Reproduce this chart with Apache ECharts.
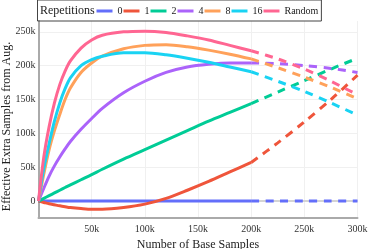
<!DOCTYPE html>
<html>
<head>
<meta charset="utf-8">
<script src="https://cdn.jsdelivr.net/npm/echarts@6/dist/echarts.min.js"></script>
<style>
html,body{margin:0;padding:0;background:#fff;}
#chart{width:373px;height:249px;}
</style>
</head>
<body>
<div id="chart"></div>
<script>
// x positions (number of base samples)
const solidX = [0, 5000, 10000, 15000, 20000, 25000, 30000, 40000, 50000, 60000, 80000, 100000, 120000, 140000, 160000, 180000, 200000];
const dashX = [200000, 225000, 250000, 275000, 300000];

const seriesNames = ['0', '1', '2', '4', '8', '16', 'Random'];
const seriesColors = ['#636EFA', '#EF553B', '#00CC96', '#AB63FA', '#FFA15A', '#19D3F3', '#FF6692'];

// solid part (0 .. 200k)
const rep0Solid = [0, 0, 0, 0, 0, 0, 0, 0, 0, 0, 0, 0, 0, 0, 0, 0, 0];
const rep1Solid = [0, -2000, -4000, -5500, -7000, -8300, -9500, -11000, -12000, -12000, -9500, -4500, 4000, 16000, 29000, 43000, 57000];
const rep2Solid = [0, 4000, 8000, 12000, 16000, 20000, 24000, 31500, 39000, 47000, 62000, 76000, 90000, 104000, 118000, 131000, 144000];
const rep4Solid = [0, 19000, 37000, 52000, 65000, 77000, 88000, 106000, 122000, 137000, 160000, 177000, 190000, 198000, 202000, 204000, 204000];
const rep8Solid = [0, 40000, 76000, 104000, 128000, 150000, 167000, 190000, 204000, 214000, 225000, 230000, 231000, 228000, 223000, 217000, 210000];
const rep16Solid = [0, 48000, 85000, 118000, 145000, 166000, 182000, 200000, 209000, 214000, 219000, 219000, 216000, 211000, 205000, 198000, 191000];
const randomSolid = [0, 65000, 110000, 145000, 172000, 192000, 207000, 226000, 238000, 245000, 250000, 251000, 249000, 244000, 238000, 230000, 222000];

// dashed part (200k .. 300k)
const rep0Dash = [0, 0, 0, 0, 0];
const rep1Dash = [57000, 86000, 117000, 150000, 186000];
const rep2Dash = [144000, 161000, 178000, 195000, 211000];
const rep4Dash = [204000, 203000, 200000, 196000, 190000];
const rep8Dash = [210000, 197000, 183000, 168000, 151000];
const rep16Dash = [191000, 177000, 162000, 145000, 127000];
const randomDash = [222000, 210000, 195000, 177000, 157000];

// tick labels
const xTickValues = [50000, 100000, 150000, 200000, 250000, 300000];
const yTickValues = [0, 50000, 100000, 150000, 200000, 250000];

const solidData = [rep0Solid, rep1Solid, rep2Solid, rep4Solid, rep8Solid, rep16Solid, randomSolid];
const dashData = [rep0Dash, rep1Dash, rep2Dash, rep4Dash, rep8Dash, rep16Dash, randomDash];

const FONT = 'Liberation Serif';
const fmtK = v => (v === 0 ? '0' : (v / 1000) + 'k');

const series = [];
// zero line
series.push({
  type: 'line', name: '__zero', data: [[0, 0]], z: 1, symbol: 'none', silent: true,
  lineStyle: { opacity: 0 },
  markLine: {
    z: 1, silent: true, symbol: 'none', label: { show: false },
    lineStyle: { color: '#d4d4d4', width: 2, type: 'solid' },
    emphasis: { disabled: true },
    data: [{ yAxis: 0 }]
  }
});
seriesNames.forEach((n, i) => {
  series.push({
    type: 'line', name: n, z: 3,
    data: solidX.map((x, j) => [x, solidData[i][j]]),
    smooth: 0.3, symbol: 'none', showSymbol: false,
    lineStyle: { color: seriesColors[i], width: 3 },
    itemStyle: { color: seriesColors[i] },
    emphasis: { disabled: true }
  });
});
seriesNames.forEach((n, i) => {
  series.push({
    type: 'line', name: n, z: 2,
    data: dashX.map((x, j) => [x, dashData[i][j]]),
    smooth: 0.3, symbol: 'none', showSymbol: false,
    lineStyle: { color: seriesColors[i], width: 3, type: [8, 6.5], cap: 'butt' },
    itemStyle: { color: seriesColors[i] },
    emphasis: { disabled: true }
  });
});

const chart = echarts.init(document.getElementById('chart'), null, { renderer: 'canvas' });
chart.setOption({
  animation: false,
  backgroundColor: '#ffffff',
  textStyle: { fontFamily: FONT },
  graphic: [{
    type: 'text', left: 40, top: 5,
    style: { text: 'Repetitions', font: '12px "' + FONT + '"', fill: '#222' }
  }, {
    type: 'text', x: 7, y: 126.5, rotation: Math.PI / 2,
    style: {
      text: 'Effective Extra Samples from Aug.', font: '12px "' + FONT + '"', fill: '#222',
      align: 'center', verticalAlign: 'middle'
    }
  }],
  legend: {
    left: 37.5, top: 0,
    padding: [5, 3, 4, 59],
    borderColor: '#444', borderWidth: 1,
    icon: 'rect', itemWidth: 16, itemHeight: 3, itemGap: 1,
    data: seriesNames,
    textStyle: { fontFamily: FONT, fontSize: 10, color: '#222', lineHeight: 12 },
    selectedMode: false
  },
  grid: { left: 38.5, right: 15.5, top: 21, bottom: 31, containLabel: false, outerBoundsMode: 'none' },
  xAxis: {
    type: 'value', min: 0, max: 300000, interval: 50000,
    name: 'Number of Base Samples', nameLocation: 'middle', nameGap: 18,
    nameTextStyle: { fontFamily: FONT, fontSize: 12, color: '#222' },
    axisLine: { show: true, onZero: false, lineStyle: { color: '#aaaaaa', width: 2 } },
    axisTick: { show: false },
    axisLabel: {
      fontFamily: FONT, fontSize: 10, color: '#333', margin: 6,
      formatter: v => (xTickValues.indexOf(v) >= 0 ? fmtK(v) : '')
    },
    splitLine: { show: true, lineStyle: { color: '#f0f0f0', width: 1 } }
  },
  yAxis: {
    type: 'value', min: -25000, max: 266000, interval: 25000,
    axisLine: { show: true, lineStyle: { color: '#aaaaaa', width: 2 } },
    axisTick: { show: false },
    axisLabel: {
      fontFamily: FONT, fontSize: 10, color: '#333', margin: 3,
      formatter: v => (yTickValues.indexOf(v) >= 0 ? fmtK(v) : '')
    },
    splitLine: { show: true, lineStyle: { color: ['rgba(0,0,0,0)', '#f0f0f0'], width: 1 } }
  },
  series: series
});
</script>
</body>
</html>
